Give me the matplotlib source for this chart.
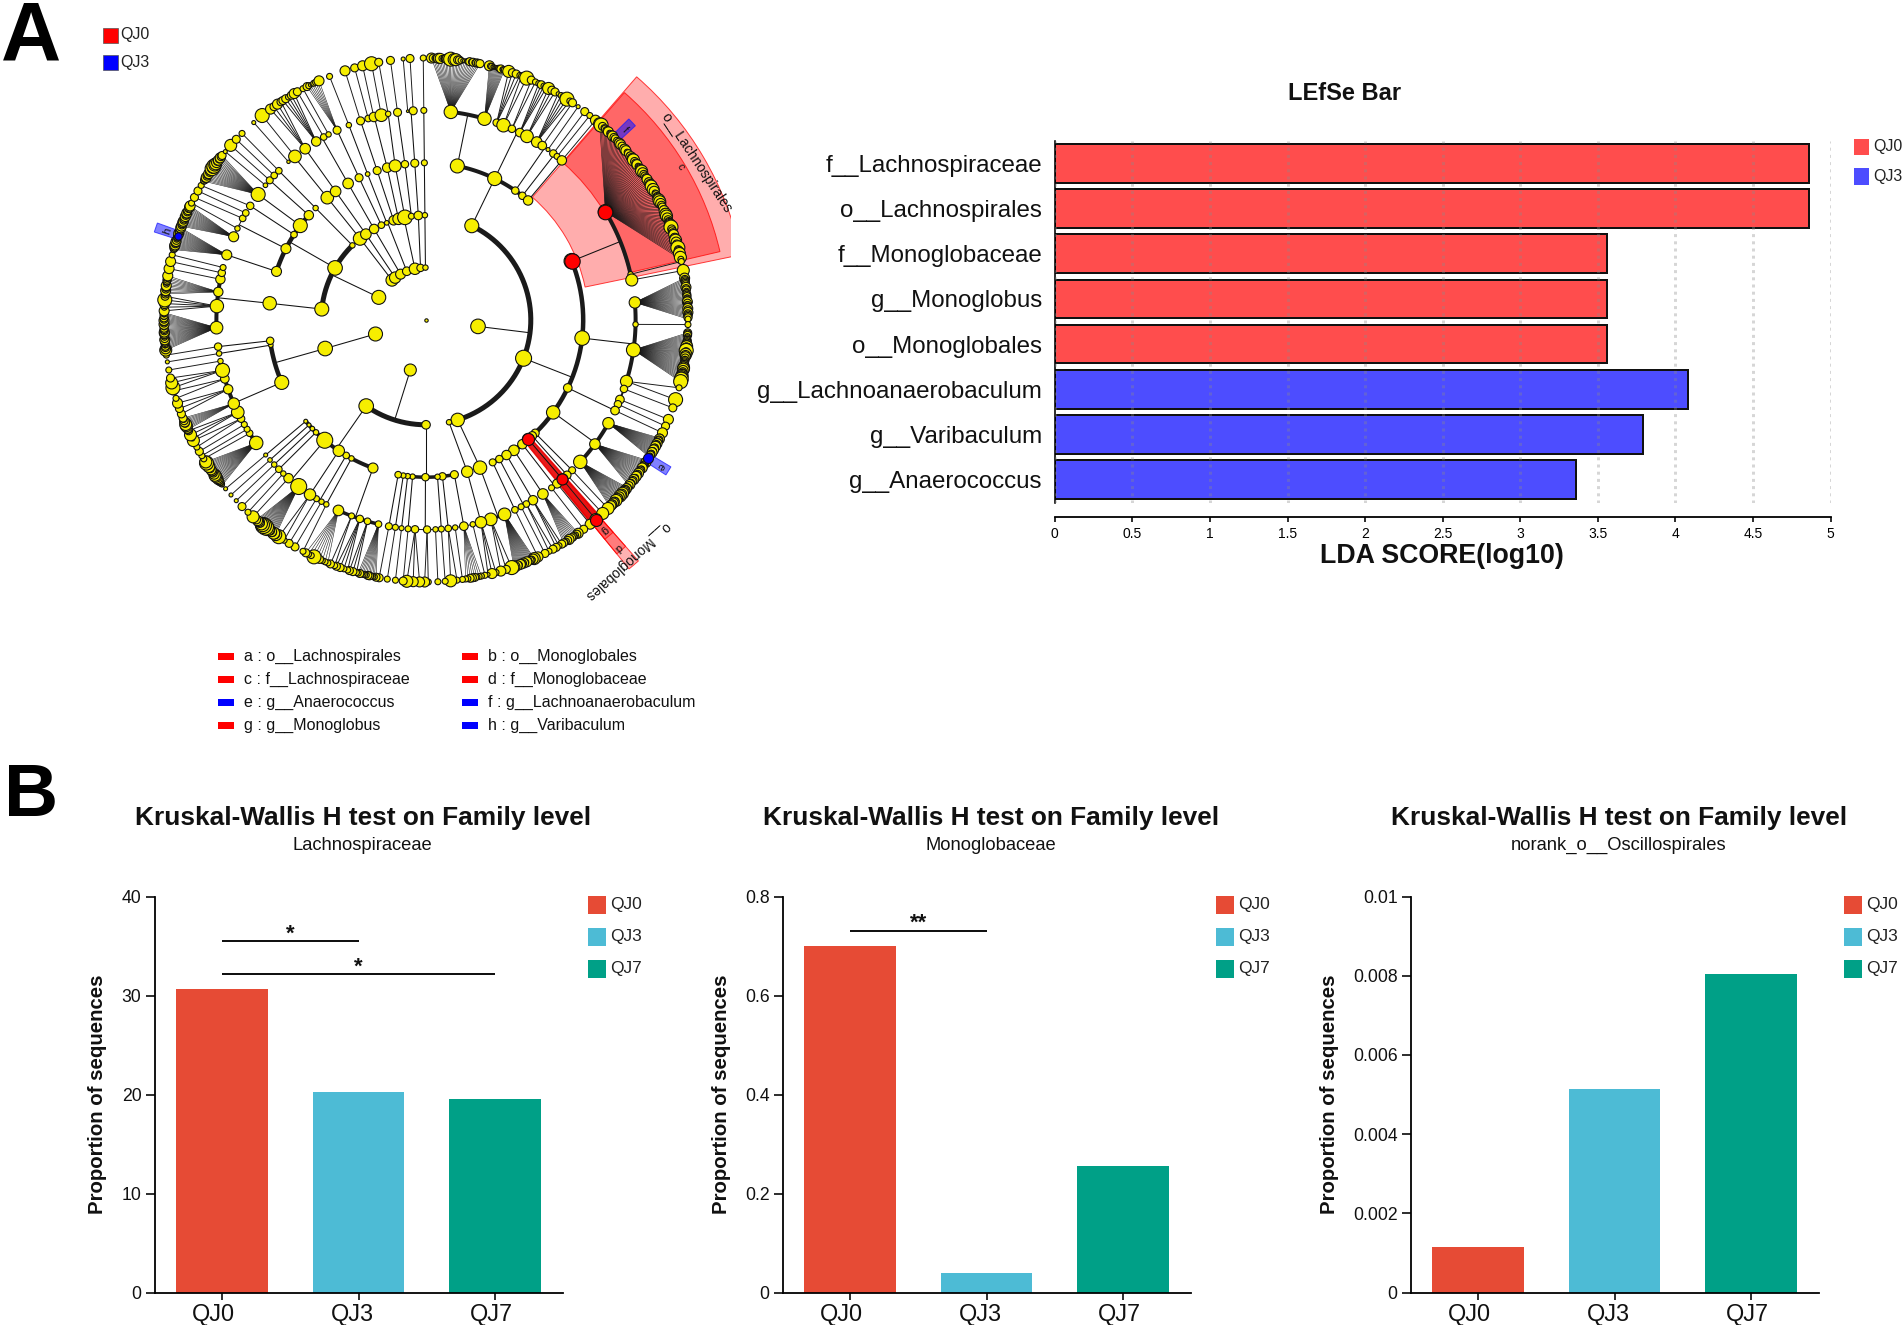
import numpy as np
import matplotlib
matplotlib.use("Agg")
import matplotlib.pyplot as plt
from matplotlib.patches import Rectangle
from matplotlib.transforms import Bbox, ScaledTranslation

plt.rcParams['font.family'] = ['Liberation Sans', 'DejaVu Sans']
W, H, DPI = 1904, 1325, 100

# ---------- panel A: cladogram (angle in degrees clockwise from north, radius of circle, parent angle)
L1 = [(97, 7.3), (197.4, 6), (254.5, 7), (295.6, 7), (319.5, 6), (324, 5.7), (331, 5),
      (338.5, 4.3), (347.8, 5.7), (354, 3.7), (359.4, 2.7)]
L2 = [(25.9, 7, 97), (111.4, 8, 97), (162.4, 6.7, 97), (167.3, 2.7, 97), (180, 4.3, 197.4),
      (214.8, 7.3, 197.4), (254.2, 7.3, 254.5), (276, 7, 295.6), (299.8, 7.3, 295.6),
      (315.4, 2.7, 295.6), (321, 6.7, 319.5), (325, 5.3, 324), (330.3, 4.7, 331),
      (334.8, 3.3, 338.5), (338, 2.3, 338.5), (342, 4.7, 338.5), (344.8, 5.7, 347.8),
      (348.4, 7.3, 347.8), (352, 3, 347.8), (355.8, 4.3, 354), (359.4, 2.7, 359.4)]
L3 = [(11.5, 7, 25.9), (25.9, 7, 25.9), (34.6, 3.7, 25.9), (37.8, 3.7, 25.9), (40.5, 4.7, 25.9),
      (68, 7.7, 111.4), (96.6, 7.3, 111.4), (115.6, 4.3, 111.4), (126, 6.7, 111.4), (136, 4, 111.4),
      (137.5, 4.3, 111.4), (139.4, 6, 111.4), (142.2, 4.7, 111.4), (146, 5.3, 111.4),
      (149.2, 4.7, 111.4), (152.2, 3.7, 111.4), (154.9, 3.5, 111.4), (159.9, 6.7, 162.4),
      (164.8, 5.7, 167.3), (169.6, 4, 180), (174, 3.7, 180), (175.8, 2.7, 180), (180.2, 3.7, 180),
      (184.9, 2.7, 180), (186.7, 2.7, 180), (188.3, 2.7, 180), (190.2, 3.3, 180),
      (199.7, 5, 214.8), (208.3, 2.7, 214.8), (210.5, 3.3, 214.8), (213.7, 5.7, 214.8),
      (220.1, 8, 214.8), (224.4, 2.7, 214.8), (226.3, 2.3, 214.8), (228.1, 2, 214.8), (229.9, 2, 214.8),
      (246.6, 7, 254.2), (260.8, 2.3, 254.2), (262.4, 3.7, 254.2), (276.1, 6.7, 276),
      (288, 5, 299.8), (297, 5, 299.8), (302.9, 3.3, 299.8), (306.9, 7, 299.8), (311.8, 4.7, 299.8),
      (315.4, 2.7, 315.4), (321.1, 6.3, 321), (324.9, 5.3, 325), (330.3, 5.3, 330.3), (334.8, 4, 334.8),
      (338.2, 2.3, 338), (341.9, 4, 342), (345.7, 4.7, 344.8), (348.7, 6, 348.4), (352.3, 3.7, 352),
      (355.9, 4, 355.8), (359.4, 3, 359.4)]
L4 = [(6.8, 6.7, 11.5), (16.2, 6.7, 11.5), (19.7, 3.7, 25.9), (21.7, 6.7, 25.9), (24.2, 3.7, 25.9),
      (26.6, 4.3, 25.9), (28.8, 6.3, 25.9), (31.9, 5.3, 25.9), (33.7, 4.3, 34.6), (35.6, 2, 34.6),
      (37.4, 3.7, 37.8), (38.7, 3, 37.8), (40.4, 4.7, 40.5), (58.9, 7.3, 68), (77.4, 2.7, 68), (79, 6, 68),
      (85.2, 5.7, 96.6), (91.2, 2.7, 96.6), (98.2, 7, 96.6), (107, 6, 96.6), (109.2, 3.7, 115.6),
      (112.3, 4.3, 115.6), (113.7, 3.7, 115.6), (115.6, 4.3, 115.6), (119.5, 5.7, 126), (126.3, 5.3, 126),
      (132.6, 6.7, 126), (135.8, 3.5, 136), (137.7, 4, 137.5), (139.4, 5.5, 139.4), (141.3, 4.5, 142.2),
      (143.2, 3, 142.2), (146.1, 5.3, 146), (149.3, 4.7, 149.2), (151.4, 3.3, 152.2), (153, 3, 152.2),
      (154.9, 3.3, 154.9), (158, 6.3, 159.9), (162, 6.3, 159.9), (164.8, 5.7, 164.8), (167.1, 2.7, 169.6),
      (169.6, 4.3, 169.6), (172, 2.7, 169.6), (173.9, 3.3, 174), (175.8, 3, 175.8), (177.4, 2.7, 180.2),
      (179.7, 3.7, 180.2), (183, 3.7, 180.2), (184.9, 3, 184.9), (186.7, 2.5, 186.7), (188.4, 3, 188.3),
      (190.2, 3.5, 190.2), (193.1, 3.3, 199.7), (196.2, 3.3, 199.7), (198.4, 3.7, 199.7), (200.8, 3, 199.7),
      (204.7, 5.3, 199.7), (208.4, 2.7, 208.3), (209.9, 2.7, 210.5), (211.5, 3, 210.5), (213.6, 5.7, 213.7),
      (217.4, 8, 220.1), (221, 4.7, 220.1), (222.9, 2.7, 220.1), (224.6, 3.3, 224.4), (226.4, 2.7, 226.3),
      (228.1, 2.3, 228.1), (229.9, 2, 229.9), (234.1, 6.7, 246.6), (237.3, 3.3, 246.6), (238.6, 3, 246.6),
      (240.1, 3, 246.6), (241.9, 3.7, 246.6), (243.9, 6.3, 246.6), (246.5, 5.7, 246.6), (250.7, 4.7, 246.6),
      (253.7, 4.3, 246.6), (256.1, 7, 246.6), (258.7, 2.7, 246.6), (260.8, 2.7, 260.8), (262.7, 3.7, 262.4),
      (267.9, 6.3, 276.1), (273.8, 6.7, 276.1), (277.7, 4.7, 276.1), (281.2, 4.7, 276.1), (283, 3.7, 276.1),
      (284.5, 3, 276.1), (288.1, 5, 288), (293.4, 5, 297), (295.9, 2.7, 297), (299, 3.3, 297), (300.7, 3.3, 297),
      (303, 3.7, 302.9), (306.8, 7, 306.9), (310, 2.3, 311.8), (311.8, 3.5, 311.8), (313.6, 3.3, 311.8),
      (315.4, 3.3, 315.4), (319, 1.7, 321.1), (321.3, 6.3, 321.1), (324.8, 5.3, 324.9), (328.4, 4.7, 330.3),
      (330.8, 3.3, 330.3), (332.3, 2.7, 330.3), (334.9, 4, 334.8), (338.4, 2.7, 338.2), (341.8, 4, 341.9),
      (344, 3.3, 345.7), (345.6, 4.7, 345.7), (347.7, 6.3, 345.7), (349.6, 2.7, 348.7), (352.2, 4, 352.3),
      (355, 1.3, 355.9), (356.5, 4, 355.9), (359.4, 3, 359.4)]
# leaves: parent angle, first angle, last angle, one digit per leaf = circle radius
LEAVES = [
    (6.8, 1.2, 11.9, "54345533452736644322234343444"), (16.2, 14, 17.4, "53322222334233"),
    (19.7, 18.4, 21, "6443"), (21.7, 21.4, 22.6, "37"), (24.2, 23.7, 24.7, "43"), (26.6, 25.5, 27.4, "3434"),
    (28.8, 27.9, 29.5, "644"), (31.9, 30.3, 33.3, "23473"), (33.7, 34, 34, "4"), (35.6, 35.5, 35.5, "2"),
    (37.4, 37.3, 37.3, "4"), (38.7, 38.7, 38.7, "3"), (40.4, 40.3, 40.3, "5"),
    (58.9, 41.5, 76.6, "6743445345443355435534355644534565444535564653445665443546654456744453565437456463"),
    (77.4, 77.1, 77.1, "3"), (79, 79.1, 79.1, "6"),
    (85.2, 80.8, 89.8, "54444435443344434454344543544443"), (91.2, 91, 91, "3"),
    (98.2, 92.8, 103.6, "4443334445565674465543444455665444666747"),
    (107, 105, 107.7, "37"), (109.2, 109.6, 109.6, "4"), (112.3, 112.3, 112.3, "5"), (113.7, 113.9, 113.9, "4"),
    (115.6, 115.5, 115.5, "5"), (119.5, 116.8, 121.5, "4544345445343534534433"),
    (126.3, 122.4, 129.2, "4453444534435445345443454"), (132.6, 129.8, 135.4, "4545546546545464554553"),
    (135.8, 136, 136, "6"), (137.7, 137.6, 137.6, "6"), (139.4, 139.6, 139.6, "6"), (141.3, 141.2, 141.2, "5"),
    (143.2, 143, 143, "4"), (146.1, 144.5, 148.3, "543344354334"), (149.3, 148.8, 150.2, "434"),
    (151.4, 151, 152, "43"), (153, 153, 153, "4"), (154.9, 154.7, 154.7, "5"),
    (158, 155.6, 160.4, "65344345335445345346"), (162, 160.9, 163.4, "745"), (164.8, 164.5, 166.3, "352"),
    (167.1, 167, 167, "3"), (169.6, 167.8, 171.3, "33344433"), (172, 172, 172, "3"), (173.9, 173.2, 174.6, "36"),
    (175.8, 175.8, 175.8, "3"), (177.4, 177.4, 177.4, "3"), (179.7, 179.5, 180.3, "35"), (183, 181.4, 184.2, "556"),
    (184.9, 185, 185, "4"), (186.7, 186.7, 186.7, "3"), (188.4, 188.5, 188.5, "3"), (190.2, 190.3, 190.3, "4"),
    (193.1, 191, 195, "433344333343"), (196.2, 195.4, 197, "344"), (198.4, 197.4, 200, "3344"), (200.8, 200.4, 201.4, "34"),
    (204.7, 202, 207.3, "333437334"), (208.4, 208, 208, "3"), (209.9, 210, 210, "4"), (211.5, 211.5, 211.5, "4"),
    (213.6, 212.8, 214.2, "37"), (217.4, 215, 220.3, "65645434758487645554"), (221, 221.3, 221.3, "6"),
    (222.9, 222.8, 222.8, "3"), (224.6, 224.6, 224.6, "4"), (226.4, 226.4, 226.4, "2"), (228.1, 228.1, 228.1, "2"),
    (229.9, 229.9, 229.9, "2"), (234.1, 231, 237.2, "2334455466544554464576"), (237.3, 238, 238, "3"),
    (238.6, 238.8, 238.8, "3"), (240.1, 239.9, 239.9, "4"), (241.9, 241, 242.6, "36"), (243.9, 243, 245, "264"),
    (246.5, 245.3, 248, "4536645434"), (250.7, 249, 251.5, "445"), (253.7, 252.6, 254.3, "34"), (256.1, 255, 257.2, "764"),
    (258.7, 259, 259, "3"), (260.8, 260.8, 260.8, "2"), (262.7, 262.3, 262.3, "3"),
    (267.9, 263.4, 271.6, "654434445433455444335445443434"), (273.8, 272, 275.2, "53574"),
    (277.7, 275.7, 279.7, "445445334445"), (281.2, 281.3, 281.3, "5"), (283, 282.9, 282.9, "5"), (284.5, 284.4, 284.4, "3"),
    (288.1, 285.6, 290.6, "34455445433444544345"), (293.4, 291, 295.8, "544554435445443455"),
    (295.9, 296.5, 296.5, "3"), (299, 297.9, 297.9, "4"), (300.7, 299.5, 299.5, "4"), (303, 300.9, 300.9, "3"),
    (306.8, 302, 308.9, "3445445445767665454544"), (310, 310, 310, "2"), (311.8, 311.8, 311.8, "6"),
    (313.6, 313.6, 313.6, "4"), (315.4, 315.4, 315.4, "3"), (319, 318.9, 318.9, "2"), (321.3, 321.3, 321.3, "7"),
    (324.8, 323.6, 326.4, "5454"), (328.4, 326.9, 329.8, "44345"), (330.8, 330.6, 330.6, "4"), (332.3, 332, 332, "3"),
    (334.9, 333, 335.9, "43223325"), (338.4, 338.4, 338.4, "3"), (341.8, 342, 342, "5"), (344, 344.2, 344.2, "4"),
    (345.6, 346, 346, "5"), (347.7, 348, 348, "7"), (349.6, 349.6, 349.6, "4"), (352.2, 352.2, 352.2, "4"),
    (355, 355, 355, "2"), (356.5, 356.5, 356.5, "4"), (359.4, 359.4, 359.4, "3"),
]
THICK_ARCS = [(1, 97, 5), (1, 197.4, 5), (1, 295.6, 5), (2, 25.9, 4), (2, 111.4, 4.5), (2, 180, 3.5),
              (2, 214.8, 4), (2, 254.2, 4.5), (2, 299.8, 4.5), (3, 11.5, 4), (3, 68, 4), (3, 96.6, 4),
              (3, 115.6, 2), (3, 126, 4), (3, 159.9, 3), (3, 199.7, 3.5), (3, 246.6, 4), (3, 276.1, 4)]
RED_NODES = [(3, 68, 7.7), (4, 58.9, 7.3), (3, 139.4, 6), (4, 139.4, 5.5), (5, 139.6, 6)]
BLUE_NODES = [(5, 121.9, 5), (5, 288.6, 3.7)]
# highlight sectors: centre angle, half width, inner level, outer level, colour
SECTORS = [(59.6, 18.7, 3.1, 6.14, (1, 0, 0, 0.32)), (59, 17.9, 3.98, 5.76, (1, 0, 0, 0.40)),
           (139.7, 1.1, 3.05, 6.13, (1, 0, 0, 0.30)), (139.7, 1.1, 4, 5.76, (1, 0, 0, 0.30)),
           (139.7, 1.1, 5, 5.4, (1, 0, 0, 0.25)), (139.7, 1.3, 3, 5, (0.9, 0, 0, 0.85)),
           (46.2, 0.95, 5.05, 5.45, (0.1, 0.1, 1, 0.6)), (121.9, 0.95, 5.05, 5.45, (0.1, 0.1, 1, 0.55)),
           (288.9, 0.95, 5.05, 5.45, (0.1, 0.1, 1, 0.55))]
# angle, level, text, rotation, size
SECTOR_LABELS = [(59.9, 5.97, "o__Lachnospirales", -56.5, 10), (58.9, 5.67, "c", -57, 8),
                 (140, 5.99, "o__Monoglobales", 222, 10), (139.6, 5.25, "g", 222, 8), (139.7, 5.68, "d", 222, 8),
                 (46.2, 5.25, "f", -46, 7), (121.9, 5.27, "e", 238, 8), (288.9, 5.22, "h", 71, 8)]
CLADE_KEY = [("a : o__Lachnospirales", 'r'), ("c : f__Lachnospiraceae", 'r'), ("e : g__Anaerococcus", 'b'), ("g : g__Monoglobus", 'r'),
             ("b : o__Monoglobales", 'r'), ("d : f__Monoglobaceae", 'r'), ("f : g__Lachnoanaerobaculum", 'b'), ("h : g__Varibaculum", 'b')]

# ---------- panel A: LDA bars
lda_names = ["f__Lachnospiraceae", "o__Lachnospirales", "f__Monoglobaceae", "g__Monoglobus",
             "o__Monoglobales", "g__Lachnoanaerobaculum", "g__Varibaculum", "g__Anaerococcus"]
lda_scores = [4.86, 4.86, 3.56, 3.56, 3.56, 4.08, 3.79, 3.36]
lda_groups = ["QJ0", "QJ0", "QJ0", "QJ0", "QJ0", "QJ3", "QJ3", "QJ3"]
lda_colors = {"QJ0": "#FF4D4D", "QJ3": "#4D4DFF"}
lda_ticks = [0, 0.5, 1, 1.5, 2, 2.5, 3, 3.5, 4, 4.5, 5]
lda_ticklabels = ["0", "0.5", "1", "1.5", "2", "2.5", "3", "3.5", "4", "4.5", "5"]

# ---------- panel B
groups = ["QJ0", "QJ3", "QJ7"]
group_colors = ["#E64B35", "#4DBBD5", "#00A087"]
family_names = ["Lachnospiraceae", "Monoglobaceae", "norank_o__Oscillospirales"]
family_values = [[30.7, 20.3, 19.55], [0.70, 0.04, 0.255], [0.00115, 0.00515, 0.00805]]
family_ymax = [40, 0.8, 0.01]
family_ticks = [[0, 10, 20, 30, 40], [0, 0.2, 0.4, 0.6, 0.8], [0, 0.002, 0.004, 0.006, 0.008, 0.01]]
family_ticklabels = [["0", "10", "20", "30", "40"], ["0", "0.2", "0.4", "0.6", "0.8"],
                     ["0", "0.002", "0.004", "0.006", "0.008", "0.01"]]
# first group, last group, height, stars
family_sig = [[(0, 1, 35.5, "*"), (0, 2, 32.2, "*")], [(0, 1, 0.731, "**")], []]


def px_rect(x0, y0, x1, y1):
    return [x0 / W, 1 - y1 / H, (x1 - x0) / W, (y1 - y0) / H]


def pt(px):
    return px * 72 / DPI


fig = plt.figure(figsize=(W / DPI, H / DPI), dpi=DPI, facecolor='white')
over = fig.add_axes([0, 0, 1, 1], zorder=5)
over.set_xlim(0, W)
over.set_ylim(H, 0)
over.axis('off')

# ----- cladogram
CX, CY, UNIT, RMAX = 426, 320, 52.4, 6.6
rad = RMAX * UNIT
pol = fig.add_axes(px_rect(CX - rad, CY - rad, CX + rad, CY + rad), projection='polar', zorder=1)
pol.set_theta_zero_location('N')
pol.set_theta_direction(-1)
pol.set_rlim(0, RMAX)
pol.axis('off')
pol.patch.set_alpha(0)
clip = Bbox([[0, 0], [731, H]])
for ang, hw, r0, r1, col in SECTORS:
    b = pol.bar(np.radians(ang), r1 - r0, width=np.radians(2 * hw), bottom=r0, facecolor=col,
                edgecolor=(col[0], col[1], col[2], 0.75), linewidth=0.7, zorder=1, clip_on=True)
    for p in b:
        p.set_clip_path(None)
        p.set_clip_box(clip)
for a, lev, txt, rot, fs in SECTOR_LABELS:
    pol.text(np.radians(a), lev, txt, rotation=rot, fontsize=fs, ha='center', va='center',
             rotation_mode='anchor', zorder=8, color='#111111')

levels = {1: [(a, r, None) for a, r in L1], 2: L2, 3: L3, 4: L4}
LINE_PT = pt(1.05)
thick = {(lv, pa): w for lv, pa, w in THICK_ARCS}
for lv in (1, 2, 3):
    parents = {}
    for a, r, pa in levels[lv + 1]:
        parents.setdefault(pa, []).append(a)
    for pa, kids in parents.items():
        if len(kids) == 1:
            pol.plot(np.radians([pa, kids[0]]), [lv, lv + 1], color='#111111', lw=LINE_PT, zorder=2)
            continue
        pol.plot(np.radians([pa, pa]), [lv, lv + 1], color='#111111', lw=LINE_PT, zorder=2)
        t = np.radians(np.arange(min(kids), max(kids) + 0.25, 0.25))
        pol.plot(t, np.full_like(t, lv + 1), color='#1a1a1a', lw=pt(thick.get((lv, pa), 1)),
                 solid_capstyle='butt', zorder=2)
leaf_a, leaf_r = [], []
for pa, a0, a1, digits in LEAVES:
    angs = np.linspace(a0, a1, len(digits))
    lw = pt(0.95) if len(digits) < 6 else pt(0.55)
    for a, d in zip(angs, digits):
        pol.plot(np.radians([pa, a]), [4, 5], color='#1a1a1a', lw=lw, zorder=2)
        leaf_a.append(a)
        leaf_r.append(int(d))


def nodes(angs, lev, radii, color='#F6EE00', z=4):
    s = (2 * np.asarray(radii, float) * 72 / DPI) ** 2
    pol.scatter(np.radians(angs), lev, s=s, c=color, edgecolors='#111111', linewidths=pt(1.1), zorder=z)


nodes([0], [0], [1.7])
for lv in (1, 2, 3, 4):
    nodes([n[0] for n in levels[lv]], [lv] * len(levels[lv]), [n[1] for n in levels[lv]])
nodes(leaf_a, [5] * len(leaf_a), leaf_r)
for lv, a, r in RED_NODES:
    nodes([a], [lv], [r], '#FF0000', 6)
for lv, a, r in BLUE_NODES:
    nodes([a], [lv], [r], '#0000FF', 6)

# ----- cladogram legends
for y, c, lab in [(35, '#FF0000', 'QJ0'), (62, '#0000FF', 'QJ3')]:
    over.add_patch(Rectangle((103, y - 7.5), 15, 15, facecolor=c, edgecolor='#555555', lw=0.5))
    over.text(120, y, lab, fontsize=11.5, va='center', ha='left', color='#222222')
for i, (txt, c) in enumerate(CLADE_KEY):
    col = i // 4
    y = [656, 679, 702, 725][i % 4]
    x = [218, 462][col]
    over.add_patch(Rectangle((x, y - 3.5), 15.5, 7, facecolor={'r': '#FF0000', 'b': '#0000FF'}[c], edgecolor='none'))
    over.text(x + 25.7, y, txt, fontsize=11.5, va='center', ha='left', color='#111111')

# ----- LDA bars
ax = fig.add_axes(px_rect(1054.8, 141, 1830.6, 502.7), zorder=2)
ypos = np.arange(len(lda_scores))
ax.barh(ypos, lda_scores, height=0.854, color=[lda_colors[g] for g in lda_groups], edgecolor='#111111',
        linewidth=pt(2))
ax.set_xlim(0, 5)
ax.set_ylim(7.507, -0.491)
ax.set_xticks(lda_ticks)
ax.set_xticklabels(lda_ticklabels, fontsize=12, color='#222222')
ax.set_yticks(ypos)
ax.set_yticklabels(lda_names, fontsize=17.4, color='#111111')
ax.tick_params(axis='y', length=0, pad=pt(12.8))
ax.tick_params(axis='x', length=pt(5), width=pt(1.6), pad=pt(5))
ax.grid(axis='x', color='#8c8c8c', alpha=0.35, linestyle=(0, (1, 1.4)), linewidth=pt(3))
ax.set_axisbelow(False)
for s in ('top', 'right'):
    ax.spines[s].set_visible(False)
ax.spines['bottom'].set_position(('outward', pt(14)))
ax.spines['bottom'].set_linewidth(pt(1.8))
ax.spines['left'].set_linewidth(pt(1.6))
over.text(1345, 94, "LEfSe Bar", fontsize=17, fontweight='bold', ha='center', va='center', color='#111111')
over.text(1442, 556, "LDA SCORE(log10)", fontsize=19.3, fontweight='bold', ha='center', va='center', color='#111111')
for y0, g in [(138.7, "QJ0"), (168, "QJ3")]:
    over.add_patch(Rectangle((1853.6, y0), 15.4, 16.5, facecolor=lda_colors[g], edgecolor='none'))
    over.text(1873.5, y0 + 8, g, fontsize=11.5, va='center', ha='left', color='#222222')

# ----- Kruskal-Wallis panels
OFFSET = 628
YLABEL_X = [107, 731, 1339]
AX_TOP, AX_BOTTOM = 896.5, 1292.5
for i in range(3):
    dx = i * OFFSET
    a = fig.add_axes(px_rect(154.5 + dx, AX_TOP, 563 + dx, AX_BOTTOM), zorder=2)
    x = np.arange(3)
    a.bar(x, family_values[i], width=0.667, color=group_colors)
    a.set_xlim(-0.4945, 2.498)
    a.set_ylim(0, family_ymax[i])
    a.set_xticks(x)
    a.set_xticklabels(groups, fontsize=16.9, color='#111111')
    a.set_yticks(family_ticks[i])
    a.set_yticklabels(family_ticklabels[i], fontsize=12.7, color='#111111')
    a.tick_params(axis='y', length=pt(9), width=pt(1.6), pad=pt(4))
    a.tick_params(axis='x', length=pt(7), width=pt(1.6), pad=pt(3))
    for lab, off in zip(a.get_xticklabels(), (-9, -6, -4)):
        lab.set_transform(lab.get_transform() + ScaledTranslation(off / DPI, 0, fig.dpi_scale_trans))
    for s in ('top', 'right'):
        a.spines[s].set_visible(False)
    for s in ('left', 'bottom'):
        a.spines[s].set_linewidth(pt(1.8))
    a.set_ylabel("Proportion of sequences", fontsize=14.7, fontweight='bold', color='#111111')
    a.yaxis.set_label_coords((YLABEL_X[i] - (154.5 + dx)) / (563 - 154.5), (AX_BOTTOM - 1094) / (AX_BOTTOM - AX_TOP))
    for g0, g1, h, stars in family_sig[i]:
        a.plot([g0, g1], [h, h], color='#111111', lw=pt(2), solid_capstyle='butt')
        a.annotate(stars, ((g0 + g1) / 2, h), xytext=(0, pt(7)), textcoords='offset points',
                   fontsize=16, fontweight='bold', ha='center', va='center', color='#111111')
    over.text(363 + dx, 818, "Kruskal-Wallis H test on Family level", fontsize=18.9, fontweight='bold',
              ha='center', va='center', color='#111111')
    over.text(362.5 + dx, 845.5, family_names[i], fontsize=13.2, ha='center', va='center', color='#111111')
    for y0, g, c in zip((896, 928, 960), groups, group_colors):
        over.add_patch(Rectangle((588 + dx, y0), 18, 18, facecolor=c, edgecolor='none'))
        over.text(610 + dx, y0 + 9, g, fontsize=12.5, va='center', ha='left', color='#222222')

over.text(1, 61, "A", fontsize=60, fontweight='bold', ha='left', va='baseline', color='black')
over.text(4, 816, "B", fontsize=54, fontweight='bold', ha='left', va='baseline', color='black')

fig.savefig('out.png', dpi=DPI, facecolor='white')
